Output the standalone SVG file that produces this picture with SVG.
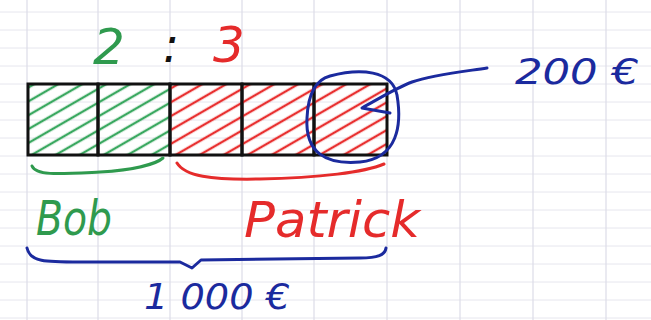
<svg xmlns="http://www.w3.org/2000/svg" width="651" height="320" viewBox="0 0 651 320">
<style>
.grid line{stroke:#e6e6ee;stroke-width:1}
.gridv line{stroke:#dcdce8;stroke-width:1.2}
.hand{font-family:"DejaVu Sans","Liberation Sans",sans-serif;font-style:italic}
.g{fill:#2f9a4e}.r{fill:#e52b2b}.b{fill:#1b2a9e}.k{fill:#111}
.cell{stroke:#111;stroke-width:3}
.pen{fill:none;stroke-width:3;stroke-linecap:round;stroke-linejoin:round}
</style>
<defs>
<pattern id="hatchG" width="12" height="12" patternUnits="userSpaceOnUse" patternTransform="rotate(-30)">
<line x1="0" y1="6" x2="12" y2="6" stroke="#3aa860" stroke-width="2.4"/>
</pattern>
<pattern id="hatchR" width="12" height="12" patternUnits="userSpaceOnUse" patternTransform="rotate(-30)">
<line x1="0" y1="6" x2="12" y2="6" stroke="#e83030" stroke-width="2.4"/>
</pattern>
</defs>
<rect width="651" height="320" fill="#ffffff"/>
<g class="grid">
<line x1="0" y1="12" x2="651" y2="12"/><line x1="0" y1="30" x2="651" y2="30"/><line x1="0" y1="48" x2="651" y2="48"/><line x1="0" y1="66" x2="651" y2="66"/><line x1="0" y1="84" x2="651" y2="84"/><line x1="0" y1="102" x2="651" y2="102"/><line x1="0" y1="120" x2="651" y2="120"/><line x1="0" y1="138" x2="651" y2="138"/><line x1="0" y1="156" x2="651" y2="156"/><line x1="0" y1="174" x2="651" y2="174"/><line x1="0" y1="192" x2="651" y2="192"/><line x1="0" y1="210" x2="651" y2="210"/><line x1="0" y1="228" x2="651" y2="228"/><line x1="0" y1="246" x2="651" y2="246"/><line x1="0" y1="264" x2="651" y2="264"/><line x1="0" y1="282" x2="651" y2="282"/><line x1="0" y1="300" x2="651" y2="300"/><line x1="0" y1="318" x2="651" y2="318"/>
</g>
<g class="gridv">
<line x1="27" y1="0" x2="27" y2="320"/><line x1="98" y1="0" x2="98" y2="320"/><line x1="170" y1="0" x2="170" y2="320"/><line x1="242" y1="0" x2="242" y2="320"/><line x1="314" y1="0" x2="314" y2="320"/><line x1="387" y1="0" x2="387" y2="320"/><line x1="460" y1="0" x2="460" y2="320"/><line x1="533" y1="0" x2="533" y2="320"/><line x1="606" y1="0" x2="606" y2="320"/>
</g>
<g id="ratio">
<text class="hand g" x="93" y="64" font-size="50">2</text>
<text class="hand k" x="163" y="62" font-size="48">:</text>
<text class="hand r" x="213" y="62" font-size="50">3</text>
</g>
<g id="bar">
<rect class="cell" x="28" y="84" width="70" height="71" fill="url(#hatchG)"/>
<rect class="cell" x="98" y="84" width="72" height="71" fill="url(#hatchG)"/>
<rect class="cell" x="170" y="84" width="72" height="71" fill="url(#hatchR)"/>
<rect class="cell" x="242" y="84" width="72" height="71" fill="url(#hatchR)"/>
<rect class="cell" x="314" y="84" width="73" height="71" fill="url(#hatchR)"/>
</g>
<g id="part-label">
<text class="hand b" x="515" y="84" font-size="36" textLength="124" lengthAdjust="spacingAndGlyphs">200 €</text>
</g>
<g id="bob">
<text class="hand g" x="36" y="235" font-size="48" textLength="76" lengthAdjust="spacingAndGlyphs">Bob</text>
</g>
<g id="patrick">
<text class="hand r" x="244" y="237" font-size="50" textLength="176" lengthAdjust="spacingAndGlyphs">Patrick</text>
</g>
<g id="total">
<text class="hand b" x="144" y="309" font-size="36" textLength="146" lengthAdjust="spacingAndGlyphs">1 000 €</text>
</g>
<g id="connectors">
<path class="pen" stroke="#1b2a9e" d="M 330 76 C 360 68 392 70 397 95 C 402 125 398 158 360 162 C 325 165 305 152 307 118 C 308 95 315 80 330 76"/>
<path class="pen" stroke="#1b2a9e" d="M 487 68 C 460 72 432 75 412 82 C 396 88 380 98 362 108 L 390 113"/>
<path class="pen" stroke="#2f9a4e" d="M 32 166 C 36 176 60 174 100 172 C 130 170 155 165 163 158"/>
<path class="pen" stroke="#e52b2b" d="M 177 163 C 185 176 210 180 260 179 C 320 178 365 172 384 164"/>
<path class="pen" stroke="#1b2a9e" d="M 27 248 C 30 262 45 262 80 262 L 180 262 L 192 268 L 201 260 L 360 258 C 378 258 385 255 386 248"/>
</g>
</svg>
